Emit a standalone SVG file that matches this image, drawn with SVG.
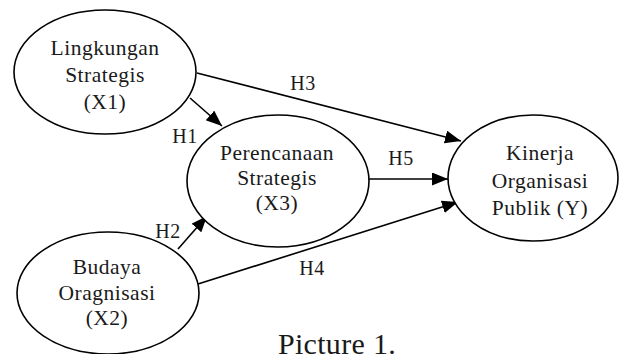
<svg xmlns="http://www.w3.org/2000/svg" width="621" height="354" viewBox="0 0 621 354">
<defs>
<style>
.node ellipse{fill:#fff;stroke:#000;stroke-width:1.6}
text{font-family:"Liberation Serif","Times New Roman",serif;font-size:21.5px;fill:#1a1a1a;text-anchor:middle;letter-spacing:0.5px}
.lbl{font-size:20px}
.edge{stroke:#000;stroke-width:1.6;fill:none;marker-end:url(#ah)}
.cap{font-size:30px;letter-spacing:0.3px}
</style>
<marker id="ah" markerUnits="userSpaceOnUse" markerWidth="18" markerHeight="14" refX="16" refY="6.5" orient="auto">
<path d="M0,0 L16,6.5 L0,13 Z" fill="#000"/>
</marker>
</defs>
<rect width="621" height="354" fill="#fff"/>
<g id="connectors">
<line class="edge" x1="190" y1="98" x2="222" y2="126"/>
<line class="edge" x1="197" y1="73" x2="461" y2="141"/>
<line class="edge" x1="369" y1="179" x2="448" y2="179"/>
<line class="edge" x1="178" y1="249" x2="207" y2="216"/>
<line class="edge" x1="198" y1="284" x2="458" y2="202"/>
</g>
<g id="n-x1" class="node">
<ellipse cx="105" cy="72" rx="91" ry="62"/>
<text x="105" y="55">Lingkungan</text>
<text x="105" y="82">Strategis</text>
<text x="105" y="109">(X1)</text>
</g>
<g id="n-x3" class="node">
<ellipse cx="278" cy="181" rx="91" ry="66"/>
<text x="277" y="160">Perencanaan</text>
<text x="277" y="185">Strategis</text>
<text x="277" y="210">(X3)</text>
</g>
<g id="n-y" class="node">
<ellipse cx="533" cy="178" rx="85" ry="63"/>
<text x="540" y="160">Kinerja</text>
<text x="540" y="188">Organisasi</text>
<text x="540" y="215">Publik (Y)</text>
</g>
<g id="n-x2" class="node">
<ellipse cx="108" cy="293" rx="91" ry="61"/>
<text x="107" y="274">Budaya</text>
<text x="107" y="300">Oragnisasi</text>
<text x="107" y="325">(X2)</text>
</g>
<g id="labels">
<text class="lbl" x="303" y="90">H3</text>
<text class="lbl" x="185" y="143">H1</text>
<text class="lbl" x="401" y="165">H5</text>
<text class="lbl" x="168" y="238">H2</text>
<text class="lbl" x="312" y="275">H4</text>
</g>
<text class="cap" x="337" y="354">Picture 1.</text>
</svg>
